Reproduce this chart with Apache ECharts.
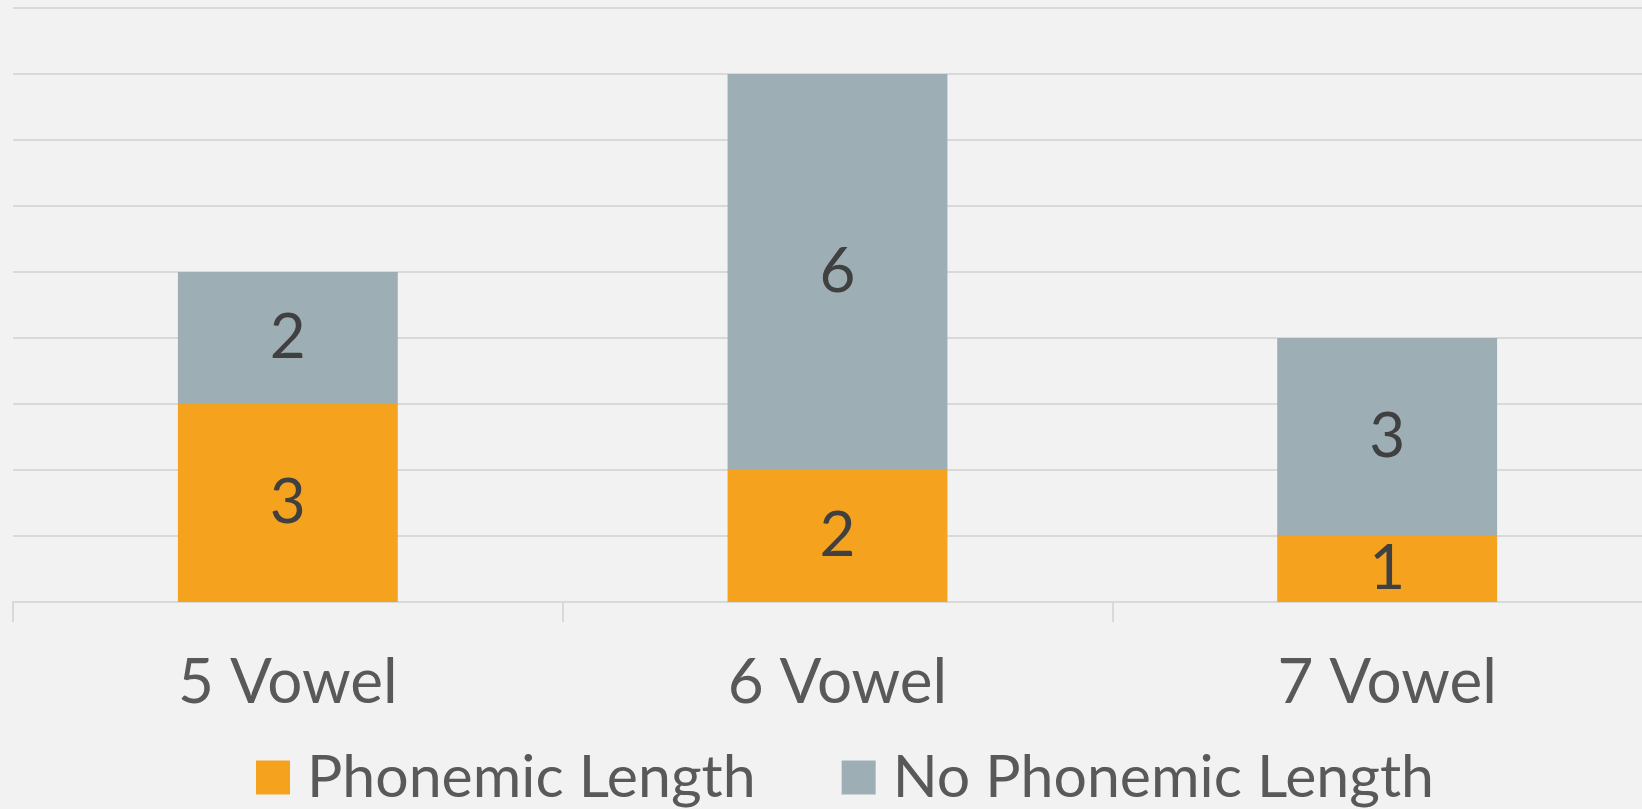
<!DOCTYPE html>
<html>
<head>
<meta charset="utf-8">
<script src="https://cdn.jsdelivr.net/npm/echarts@6/dist/echarts.min.js"></script>
<style>
  html, body { margin: 0; padding: 0; background: #F2F2F2; overflow: hidden; }
  /* the plot runs slightly past the right edge of the window */
  #chart { width: 1662px; height: 809px; }
</style>
</head>
<body>
<div id="chart"></div>
<script>
// Vowel inventory size vs. phonemic vowel length
const categories = ['5 Vowel', '6 Vowel', '7 Vowel'];
const phonemicLength = [3, 2, 1];
const noPhonemicLength = [2, 6, 3];
const seriesNames = ['Phonemic Length', 'No Phonemic Length'];

const FONT = 'Lato, "Open Sans", sans-serif';
const chart = echarts.init(document.getElementById('chart'), null, { renderer: 'canvas' });

const labelStyle = {
  show: true,
  position: 'inside',
  color: '#404040',
  fontFamily: FONT,
  fontSize: 62
};

chart.setOption({
  backgroundColor: '#F2F2F2',
  animation: false,
  grid: { left: 13, right: 0, top: 8, bottom: 207, containLabel: false },
  legend: {
    data: seriesNames,
    left: 251,
    top: 743,
    icon: 'rect',
    itemWidth: 34,
    itemHeight: 34,
    itemGap: 86,
    textStyle: { color: '#595959', fontFamily: FONT, fontSize: 59, padding: [0, 0, 0, 12] }
  },
  xAxis: {
    type: 'category',
    data: categories,
    axisLine: { lineStyle: { color: '#D9D9D9', width: 2 } },
    axisTick: { show: true, length: 20, lineStyle: { color: '#D9D9D9', width: 2 } },
    axisLabel: { color: '#595959', fontFamily: FONT, fontSize: 62, margin: 50 }
  },
  yAxis: {
    type: 'value',
    min: 0,
    max: 9,
    interval: 1,
    axisLabel: { show: false },
    axisLine: { show: false },
    axisTick: { show: false },
    splitLine: { lineStyle: { color: '#D9D9D9', width: 2 } }
  },
  series: [
    {
      name: seriesNames[0],
      type: 'bar',
      stack: 'total',
      barWidth: '40%',
      data: phonemicLength,
      itemStyle: { color: '#F5A31E' },
      label: labelStyle
    },
    {
      name: seriesNames[1],
      type: 'bar',
      stack: 'total',
      barWidth: '40%',
      data: noPhonemicLength,
      itemStyle: { color: '#9DAFB4' },
      label: labelStyle
    }
  ]
});
</script>
</body>
</html>
